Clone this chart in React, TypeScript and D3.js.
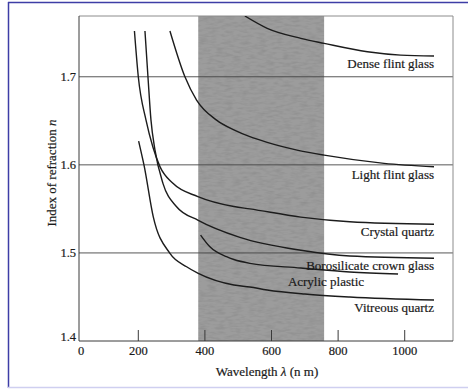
import { useEffect, useRef } from "react";
import * as d3 from "d3";

type Pt = [number, number]; // [wavelength nm, index n]

const wavelengthTicks = [0, 200, 400, 600, 800, 1000];
const indexTicks = [1.4, 1.5, 1.6, 1.7];
const visibleBand: Pt = [380, 758];

const denseFlint: Pt[] = [
  [520, 1.769], [587, 1.755], [688, 1.7436], [758, 1.7379],
  [888, 1.7284], [988, 1.7246], [1088, 1.7235],
];
const lightFlint: Pt[] = [
  [295, 1.752], [340, 1.7], [375, 1.6736], [435, 1.6508], [487, 1.6397],
  [535, 1.632], [587, 1.6255], [680, 1.6165], [758, 1.611], [938, 1.6017],
  [1088, 1.5978],
];
const crystalQuartz: Pt[] = [
  [187, 1.752], [200, 1.7], [223, 1.651], [244, 1.62], [265, 1.598],
  [304, 1.579], [379, 1.564], [487, 1.5527], [535, 1.55], [688, 1.5407],
  [835, 1.5354], [1088, 1.5325],
];
const borosilicate: Pt[] = [
  [220, 1.752], [229, 1.7], [238, 1.651], [250, 1.617], [274, 1.579],
  [315, 1.5524], [380, 1.537], [505, 1.5177], [688, 1.503], [835, 1.4965],
  [1088, 1.4939],
];
const acrylic: Pt[] = [
  [387, 1.5203], [415, 1.507], [465, 1.4957], [487, 1.4925], [535, 1.4882],
  [688, 1.4829], [835, 1.4783], [980, 1.476],
];
const vitreousQuartz: Pt[] = [
  [201, 1.627], [207, 1.617], [217, 1.6], [245, 1.541], [295, 1.4995],
  [345, 1.4843], [380, 1.4768], [487, 1.4636], [535, 1.4613], [587, 1.4579],
  [700, 1.4533], [835, 1.4499], [1088, 1.4465],
];

const materials = [
  { name: "Dense flint glass", points: denseFlint },
  { name: "Light flint glass", points: lightFlint },
  { name: "Crystal quartz", points: crystalQuartz },
  { name: "Borosilicate crown glass", points: borosilicate },
  { name: "Acrylic plastic", points: acrylic },
  { name: "Vitreous quartz", points: vitreousQuartz },
];

const W = 468;
const H = 389;
const FONT = "'Liberation Serif', 'Times New Roman', serif";

export default function App() {
  const ref = useRef<SVGSVGElement | null>(null);

  useEffect(() => {
    if (!ref.current) return;
    const svg = d3.select(ref.current);
    svg.selectAll("*").remove();

    const left = 79, right = 453, top = 16, bottom = 341;

    // the original axis is squeezed between 0 and 200
    const x = d3.scaleLinear().domain([0, 200, 1145]).range([left, 138.3, right]);
    const y = d3.scaleLinear().domain([1.4, 1.769]).range([bottom, top]);

    // ── Page frame ─────────────────────────────────────────────────────────
    svg.append("line")
      .attr("x1", 8.5).attr("x2", 8.5).attr("y1", 2).attr("y2", 388)
      .attr("stroke", "#3d3da6").attr("stroke-width", 1.5);
    svg.append("line")
      .attr("x1", 8).attr("x2", W).attr("y1", 2.5).attr("y2", 2.5)
      .attr("stroke", "#3d3da6").attr("stroke-width", 1.5);
    svg.append("line")
      .attr("x1", 8).attr("x2", W).attr("y1", 387.5).attr("y2", 387.5)
      .attr("stroke", "#cfcff0").attr("stroke-width", 1.5);

    const defs = svg.append("defs");
    defs.append("clipPath").attr("id", "plot")
      .append("rect")
      .attr("x", left).attr("y", top)
      .attr("width", right - left).attr("height", bottom - top);

    const grain = defs.append("filter").attr("id", "grain")
      .attr("x", 0).attr("y", 0).attr("width", 1).attr("height", 1);
    grain.append("feTurbulence")
      .attr("type", "fractalNoise").attr("baseFrequency", "0.12 0.4")
      .attr("numOctaves", 2).attr("seed", 4).attr("result", "n");
    grain.append("feColorMatrix").attr("in", "n").attr("type", "matrix")
      .attr("values", "0 0 0 0 0  0 0 0 0 0  0 0 0 0 0  0 0 0 -1 0.6")
      .attr("result", "a");
    grain.append("feComposite").attr("in", "a").attr("in2", "SourceGraphic")
      .attr("operator", "in");

    // ── Visible band ───────────────────────────────────────────────────────
    const bandX = x(visibleBand[0]);
    const bandW = x(visibleBand[1]) - x(visibleBand[0]);
    svg.append("rect")
      .attr("x", bandX).attr("y", top)
      .attr("width", bandW).attr("height", bottom - top)
      .attr("fill", "#9c9c9c");
    svg.append("rect")
      .attr("x", bandX).attr("y", top)
      .attr("width", bandW).attr("height", bottom - top)
      .attr("fill", "#000")
      .attr("opacity", 0.16)
      .attr("filter", "url(#grain)");

    // ── Grid + frame ───────────────────────────────────────────────────────
    svg.append("g")
      .selectAll("line")
      .data(indexTicks.filter((v) => v > 1.4))
      .join("line")
      .attr("x1", left).attr("x2", right)
      .attr("y1", (d) => y(d)).attr("y2", (d) => y(d))
      .attr("stroke", "#444").attr("stroke-width", 0.9);

    svg.append("path")
      .attr("d", `M${left},${top}H${right}V${bottom}`)
      .attr("fill", "none").attr("stroke", "#8c8c8c").attr("stroke-width", 1);
    svg.append("path")
      .attr("d", `M${left},${top}V${bottom}H${right}`)
      .attr("fill", "none").attr("stroke", "#3a3a3a").attr("stroke-width", 1);

    svg.append("g")
      .selectAll("line")
      .data(wavelengthTicks.filter((v) => v > 0))
      .join("line")
      .attr("x1", (d) => x(d)).attr("x2", (d) => x(d))
      .attr("y1", bottom).attr("y2", bottom - 11)
      .attr("stroke", "#3a3a3a").attr("stroke-width", 1);

    // ── Tick labels ────────────────────────────────────────────────────────
    const txt = (sel: d3.Selection<any, any, any, any>, size = 13) =>
      sel.attr("font-family", FONT).attr("font-size", size)
        .attr("fill", "#1a1a1a").attr("stroke", "#1a1a1a").attr("stroke-width", 0.2);

    svg.append("g")
      .selectAll("text")
      .data(wavelengthTicks)
      .join("text")
      .call(txt, 12.5)
      .attr("x", (d) => x(d) + (d === 0 ? 2 : 0))
      .attr("y", bottom + 14)
      .attr("text-anchor", "middle")
      .text((d) => String(d));

    svg.append("g")
      .selectAll("text")
      .data(indexTicks)
      .join("text")
      .call(txt, 12.5)
      .attr("x", left - 3)
      .attr("y", (d) => y(d) + 4 - (d === 1.4 ? 4 : 0))
      .attr("text-anchor", "end")
      .text((d) => d.toFixed(1));

    // ── Curves ─────────────────────────────────────────────────────────────
    const line = d3.line<Pt>()
      .x((d) => x(d[0]))
      .y((d) => y(d[1]))
      .curve(d3.curveMonotoneX);

    svg.append("g")
      .attr("clip-path", "url(#plot)")
      .selectAll("path")
      .data(materials)
      .join("path")
      .attr("d", (d) => line(d.points))
      .attr("fill", "none")
      .attr("stroke", "#1c1c1c")
      .attr("stroke-width", 1.4);

    // labels sit just under the end of each curve
    const labelDx: Record<string, number> = { "Acrylic plastic": -34 };
    svg.append("g")
      .selectAll("text")
      .data(materials)
      .join("text")
      .call(txt)
      .attr("text-anchor", "end")
      .attr("x", (d) => x(d.points[d.points.length - 1][0]) + (labelDx[d.name] ?? 0))
      .attr("y", (d) => y(d.points[d.points.length - 1][1]) + 12)
      .text((d) => d.name);

    // ── Axis titles ────────────────────────────────────────────────────────
    const yt = svg.append("text")
      .call(txt)
      .attr("text-anchor", "middle")
      .attr("transform", "translate(56,173) rotate(-90)");
    yt.append("tspan").text("Index of refraction ");
    yt.append("tspan").attr("font-style", "italic").text("n");

    const xt = svg.append("text")
      .call(txt)
      .attr("text-anchor", "middle")
      .attr("x", 267).attr("y", 376);
    xt.append("tspan").text("Wavelength ");
    xt.append("tspan").attr("font-style", "italic").text("λ");
    xt.append("tspan").text(" (n m)");
  }, []);

  return (
    <svg
      ref={ref}
      width={W}
      height={H}
      style={{ position: "absolute", left: 0, top: 0, display: "block", background: "#fff" }}
    />
  );
}
